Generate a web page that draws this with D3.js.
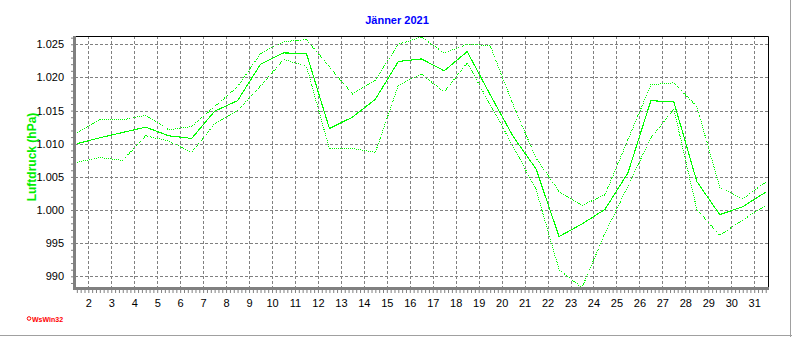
<!DOCTYPE html>
<html>
<head>
<meta charset="utf-8">
<script src="https://cdn.jsdelivr.net/npm/d3@7"></script>
<style>
body { margin: 0; background: #fff; }
svg { display: block; font-family: "Liberation Sans", Arial, sans-serif; }
</style>
</head>
<body>
<svg class="chart"></svg>
<script>
'use strict';

// Luftdruck Jänner 2021, one value per day (mean, max, min)
var days = d3.range(1, 32);
var meanValues = [1010.0, 1010.9, 1011.7, 1012.5, 1011.2, 1010.8, 1014.9, 1016.5, 1022.0, 1023.7,
                  1023.6, 1012.3, 1014.0, 1016.7, 1022.4, 1022.8, 1021.0, 1023.9, 1017.4, 1011.1,
                  1006.2, 996.0, 997.9, 1000.1, 1005.6, 1016.5, 1016.3, 1004.3, 999.3, 1000.5, 1002.7];
var maxValues = [1011.7, 1013.6, 1013.6, 1014.3, 1012.1, 1012.6, 1015.6, 1018.6, 1023.6, 1025.4,
                 1025.7, 1021.6, 1017.5, 1019.6, 1025.0, 1026.1, 1023.7, 1025.0, 1024.8, 1015.9,
                 1007.8, 1002.8, 1000.7, 1002.3, 1010.6, 1018.9, 1019.2, 1015.6, 1003.4, 1001.7, 1004.2];
var minValues = [1007.2, 1007.9, 1007.5, 1011.2, 1010.4, 1008.7, 1013.0, 1015.0, 1018.7, 1022.7,
                 1021.7, 1009.2, 1009.3, 1008.7, 1018.8, 1020.5, 1017.8, 1022.2, 1015.9, 1009.6,
                 1003.1, 991.0, 988.3, 996.5, 1003.6, 1010.9, 1015.2, 1000.1, 996.2, 998.5, 1000.7];
var yTicks = [990, 995, 1000, 1005, 1010, 1015, 1020, 1025];
var xTicks = d3.range(2, 32);

var W = 792, H = 337;
var plot = { left: 75, top: 36, right: 768, bottom: 288 };

var svg = d3.select(".chart")
    .attr("width", W)
    .attr("height", H);

var x = d3.scaleLinear().domain([1.42, 31.6]).range([plot.left, plot.right]);
var y = d3.scaleLinear().domain([988.24, 1026.25]).range([plot.bottom, plot.top]);

var de = d3.formatLocale({ decimal: ",", thousands: ".", grouping: [3], currency: ["", "€"] });
var fmt = de.format(",d");

// outer frame
svg.append("line").attr("x1", W - 1.5).attr("x2", W - 1.5).attr("y1", 0).attr("y2", H)
    .attr("stroke", "#a0a0a0").attr("stroke-width", 1);
svg.append("line").attr("x1", 0).attr("x2", W).attr("y1", H - 1.5).attr("y2", H - 1.5)
    .attr("stroke", "#a0a0a0").attr("stroke-width", 1);

// grid
var grid = svg.append("g").attr("stroke", "#808080").attr("stroke-dasharray", "3,2")
    .attr("shape-rendering", "crispEdges");
grid.selectAll("line.h").data(yTicks).enter().append("line")
    .attr("class", "h")
    .attr("x1", plot.left).attr("x2", plot.right)
    .attr("y1", function(d) { return Math.round(y(d)) + 0.5; })
    .attr("y2", function(d) { return Math.round(y(d)) + 0.5; });
grid.selectAll("line.v").data(xTicks).enter().append("line")
    .attr("class", "v")
    .attr("y1", plot.top).attr("y2", plot.bottom)
    .attr("x1", function(d) { return Math.round(x(d)) + 0.5; })
    .attr("x2", function(d) { return Math.round(x(d)) + 0.5; });

// plot border top/right
svg.append("path")
    .attr("d", "M" + plot.left + "," + (plot.top + 0.5) + "H" + (plot.right + 0.5) + "V" + plot.bottom)
    .attr("fill", "none").attr("stroke", "#000");

// lines
svg.append("clipPath").attr("id", "clip").append("rect")
    .attr("x", plot.left).attr("y", plot.top)
    .attr("width", plot.right - plot.left).attr("height", plot.bottom - plot.top);

var line = d3.line()
    .x(function(d) { return x(d[0] + 0.5); })
    .y(function(d) { return y(d[1]); });

var series = [
    { values: maxValues, dash: "1,1", width: 1 },
    { values: minValues, dash: "1,1", width: 1 },
    { values: meanValues, dash: null, width: 1.1 }
];

svg.append("g").attr("clip-path", "url(#clip)")
    .selectAll("path").data(series).enter().append("path")
    .attr("d", function(s) { return line(d3.zip(days, s.values)); })
    .attr("fill", "none")
    .attr("stroke", "#00ff00")
    .attr("shape-rendering", "crispEdges")
    .attr("stroke-width", function(s) { return s.width; })
    .attr("stroke-dasharray", function(s) { return s.dash; });

// y axis: minor ticks every hPa, labels every 5
var yMinor = svg.append("g")
    .attr("transform", "translate(" + (plot.left - 1) + ",0)")
    .call(d3.axisLeft(y).tickValues(d3.range(989, 1027)).tickSize(3).tickFormat(""));
yMinor.select(".domain").remove();
yMinor.selectAll("line").attr("stroke", "#808080");

var yAxis = svg.append("g")
    .attr("transform", "translate(" + (plot.left - 1) + ",0)")
    .call(d3.axisLeft(y).tickValues(yTicks).tickSize(0).tickPadding(10).tickFormat(fmt));
yAxis.select(".domain").remove();
yAxis.selectAll("text").attr("font-size", 11).attr("fill", "#000")
    .attr("font-family", "Liberation Sans, Arial, sans-serif");

// x axis
var xMinor = svg.append("g")
    .attr("transform", "translate(0," + (plot.bottom + 1) + ")")
    .call(d3.axisBottom(x).tickValues(d3.range(1.5, 31.6, 1 / 6)).tickSize(4).tickFormat(""));
xMinor.select(".domain").remove();
xMinor.selectAll("line").attr("stroke", "#808080");

var xAxis = svg.append("g")
    .attr("transform", "translate(0," + plot.bottom + ")")
    .call(d3.axisBottom(x).tickValues(xTicks).tickSize(0).tickPadding(11).tickFormat(d3.format("d")));
xAxis.select(".domain").remove();
xAxis.selectAll("text").attr("font-size", 11).attr("fill", "#000")
    .attr("font-family", "Liberation Sans, Arial, sans-serif");

// thick gray axis lines
svg.append("path")
    .attr("d", "M" + (plot.left - 0.5) + "," + plot.top + "V" + (plot.bottom + 0.5) + "H" + (plot.right + 1))
    .attr("fill", "none").attr("stroke", "#808080").attr("stroke-width", 3);

// title and axis label
svg.append("text")
    .attr("x", 397).attr("y", 24)
    .attr("text-anchor", "middle")
    .attr("font-size", 11).attr("font-weight", "bold")
    .attr("fill", "#0000ff")
    .text("Jänner 2021");

svg.append("text")
    .attr("transform", "translate(36,157) rotate(-90)")
    .attr("text-anchor", "middle")
    .attr("font-size", 12).attr("font-weight", "bold")
    .attr("fill", "#00ee00")
    .text("Luftdruck (hPa)");

// program mark
svg.append("circle").attr("cx", 29).attr("cy", 318.5).attr("r", 1.8)
    .attr("fill", "none").attr("stroke", "#ff0000").attr("stroke-width", 1);
svg.append("text")
    .attr("x", 32).attr("y", 321.5)
    .attr("font-size", 7).attr("font-weight", "bold")
    .attr("fill", "#ff0000")
    .text("WsWin32");
</script>
</body>
</html>
